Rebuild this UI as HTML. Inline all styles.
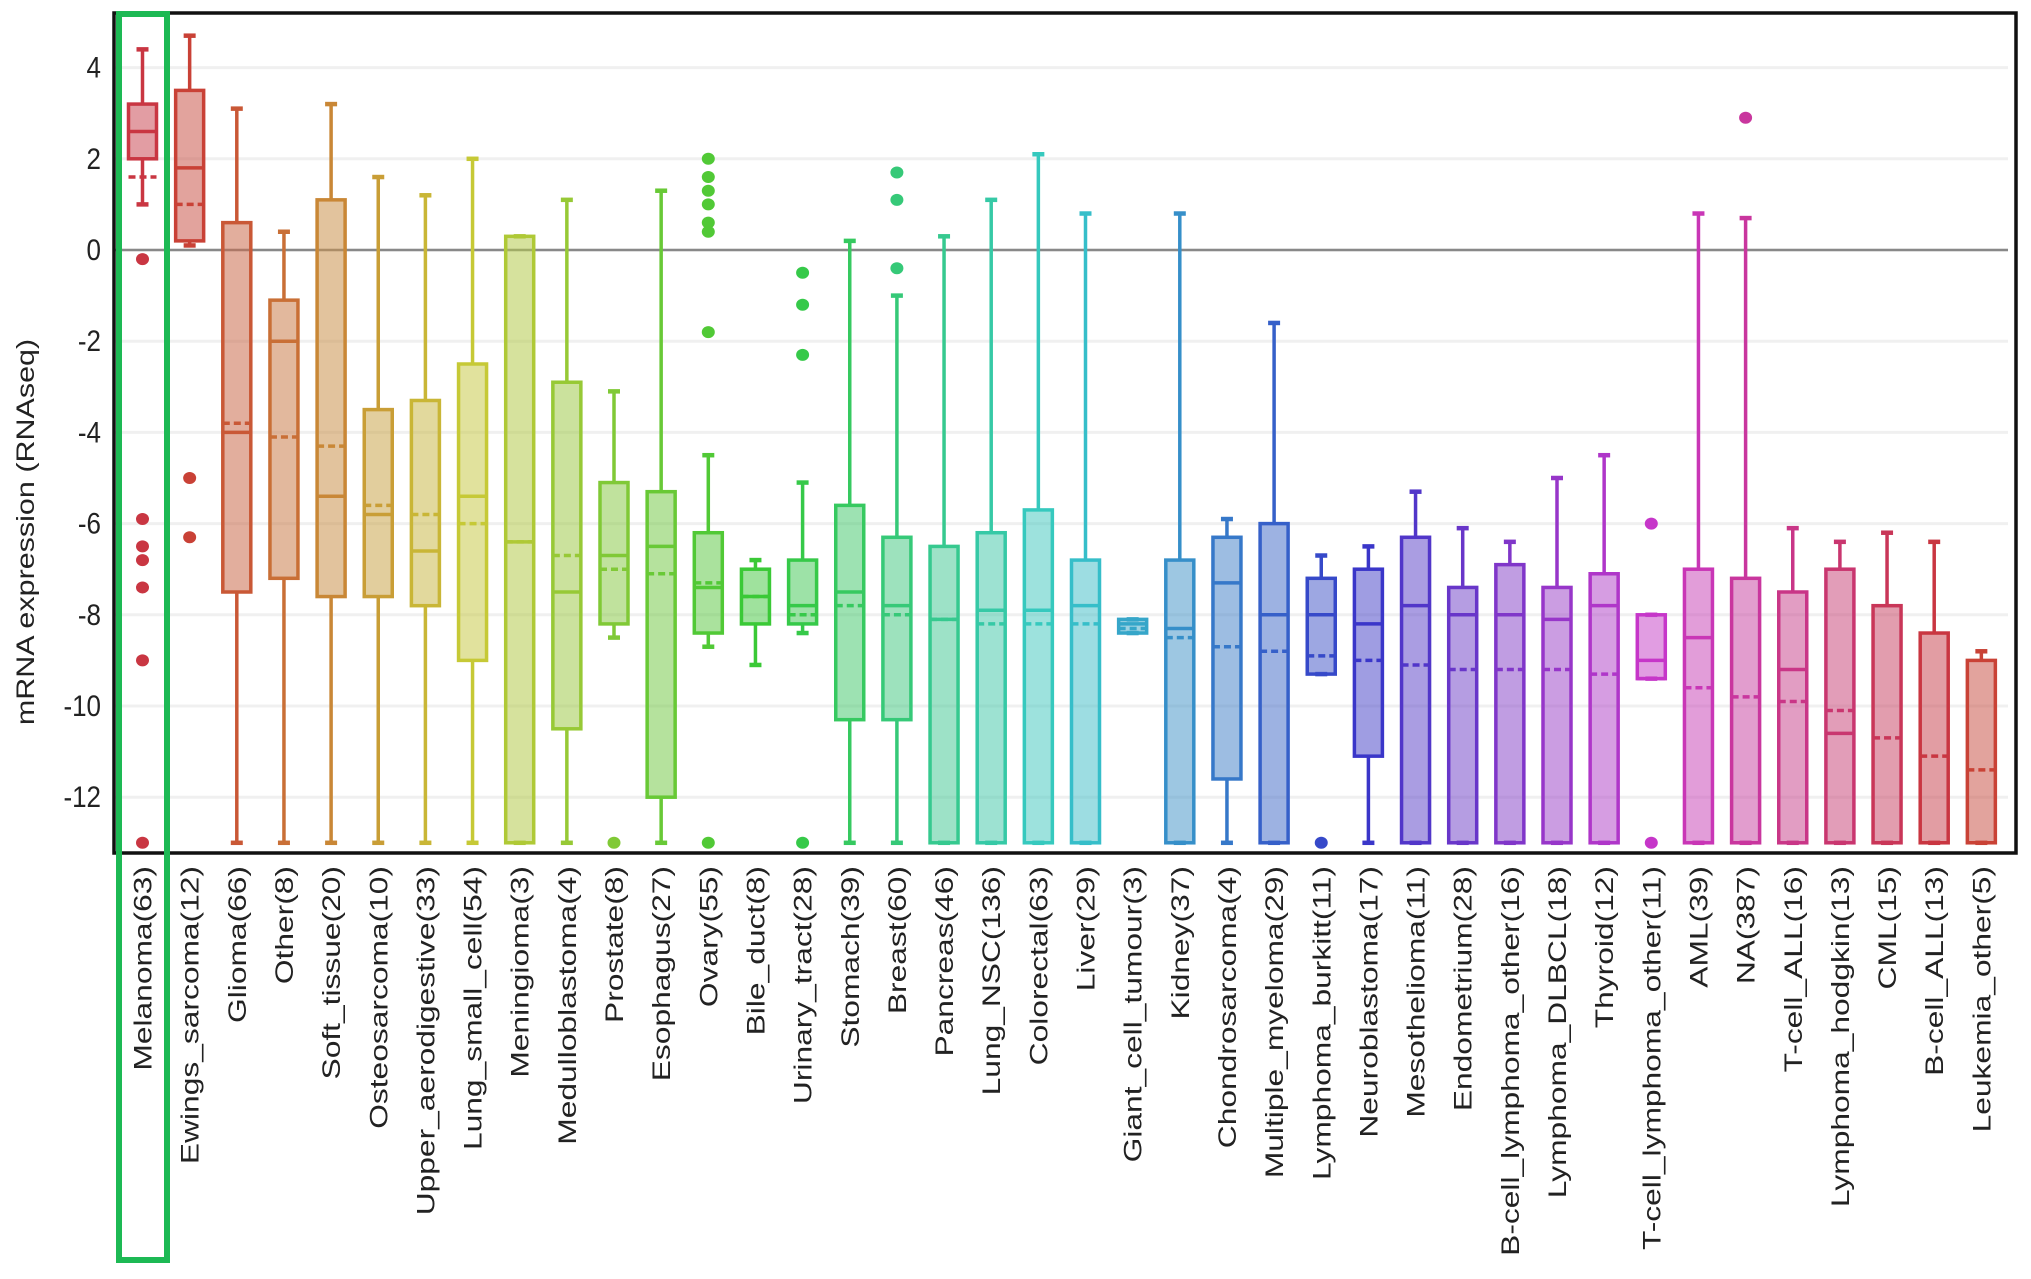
<!DOCTYPE html>
<html><head><meta charset="utf-8"><style>
html,body{margin:0;padding:0;background:#fff;}
svg{display:block;font-family:"Liberation Sans",sans-serif;}
</style></head><body>
<svg id="chart" width="2031" height="1279" viewBox="0 0 2031 1279" xmlns="http://www.w3.org/2000/svg"></svg>
<script>
const categories = ["Melanoma(63)","Ewings_sarcoma(12)","Glioma(66)","Other(8)","Soft_tissue(20)","Osteosarcoma(10)","Upper_aerodigestive(33)","Lung_small_cell(54)","Meningioma(3)","Medulloblastoma(4)","Prostate(8)","Esophagus(27)","Ovary(55)","Bile_duct(8)","Urinary_tract(28)","Stomach(39)","Breast(60)","Pancreas(46)","Lung_NSC(136)","Colorectal(63)","Liver(29)","Giant_cell_tumour(3)","Kidney(37)","Chondrosarcoma(4)","Multiple_myeloma(29)","Lymphoma_burkitt(11)","Neuroblastoma(17)","Mesothelioma(11)","Endometrium(28)","B-cell_lymphoma_other(16)","Lymphoma_DLBCL(18)","Thyroid(12)","T-cell_lymphoma_other(11)","AML(39)","NA(387)","T-cell_ALL(16)","Lymphoma_hodgkin(13)","CML(15)","B-cell_ALL(13)","Leukemia_other(5)"];
const whiskerHigh = [4.4,4.7,3.1,0.4,3.2,1.6,1.2,2.0,0.3,1.1,-3.1,1.3,-4.5,-6.8,-5.1,0.2,-1.0,0.3,1.1,2.1,0.8,-8.1,0.8,-5.9,-1.6,-6.7,-6.5,-5.3,-6.1,-6.4,-5.0,-4.5,-8.0,0.8,0.7,-6.1,-6.4,-6.2,-6.4,-8.8];
const q3Values = [3.2,3.5,0.6,-1.1,1.1,-3.5,-3.3,-2.5,0.3,-2.9,-5.1,-5.3,-6.2,-7.0,-6.8,-5.6,-6.3,-6.5,-6.2,-5.7,-6.8,-8.1,-6.8,-6.3,-6.0,-7.2,-7.0,-6.3,-7.4,-6.9,-7.4,-7.1,-8.0,-7.0,-7.2,-7.5,-7.0,-7.8,-8.4,-9.0];
const medianValues = [2.6,1.8,-4.0,-2.0,-5.4,-5.8,-6.6,-5.4,-6.4,-7.5,-6.7,-6.5,-7.4,-7.6,-7.8,-7.5,-7.8,-8.1,-7.9,-7.9,-7.8,-8.2,-8.3,-7.3,-8.0,-8.0,-8.2,-7.8,-8.0,-8.0,-8.1,-7.8,-9.0,-8.5,-13,-9.2,-10.6,-13,-13,-13];
const meanValues = [1.6,1.0,-3.8,-4.1,-4.3,-5.6,-5.8,-6.0,-6.4,-6.7,-7.0,-7.1,-7.3,-7.6,-8.0,-7.8,-8.0,-8.1,-8.2,-8.2,-8.2,-8.3,-8.5,-8.7,-8.8,-8.9,-9.0,-9.1,-9.2,-9.2,-9.2,-9.3,-9.4,-9.6,-9.8,-9.9,-10.1,-10.7,-11.1,-11.4];
const q1Values = [2.0,0.2,-7.5,-7.2,-7.6,-7.6,-7.8,-9.0,-13,-10.5,-8.2,-12.0,-8.4,-8.2,-8.2,-10.3,-10.3,-13,-13,-13,-13,-8.4,-13,-11.6,-13,-9.3,-11.1,-13,-13,-13,-13,-13,-9.4,-13,-13,-13,-13,-13,-13,-13];
const whiskerLow = [1.0,0.1,-13,-13,-13,-13,-13,-13,-13,-13,-8.5,-13,-8.7,-9.1,-8.4,-13,-13,-13,-13,-13,-13,-8.4,-13,-13,-13,-9.3,-13,-13,-13,-13,-13,-13,-9.4,-13,-13,-13,-13,-13,-13,-13];
const outlierValues = [[-0.2,-5.9,-6.5,-6.8,-7.4,-9.0,-13],[-5.0,-6.3],[],[],[],[],[],[],[],[],[-13],[],[2.0,1.6,1.3,1.0,0.6,0.4,-1.8,-13],[],[-0.5,-1.2,-2.3,-13],[],[1.7,1.1,-0.4],[],[],[],[],[],[],[],[],[-13],[],[],[],[],[],[],[-6.0,-13],[],[2.9],[],[],[],[],[]];
const yTicks = [4,2,0,-2,-4,-6,-8,-10,-12];

const NS="http://www.w3.org/2000/svg";
const svg=document.getElementById('chart');
const L=114,R=2016,T=13,B=853;
const x0=142.5, step=47.15, bw=28;
function xs(i){return x0+i*step;}
function ys(v){return 250-45.6*v;}
function mk(tag,attrs,parent){const e=document.createElementNS(NS,tag);for(const k in attrs)e.setAttribute(k,attrs[k]);(parent||svg).appendChild(e);return e;}

yTicks.forEach(v=>{
  const g=mk('line',{x1:L,x2:R-8,y1:ys(v),y2:ys(v),stroke:'#f0f0f0','stroke-width':3});
  
  
  const t=mk('text',{transform:`translate(101,${ys(v)+10}) scale(1,1.15)`,'text-anchor':'end','font-size':26,fill:'#222'});
  t.textContent=v;
  
  
});
const zl=mk('line',{x1:L,x2:R-8,y1:ys(0),y2:ys(0),stroke:'#888','stroke-width':2.5});



categories.forEach((c,i)=>{
  const h=(355+i*370/39)%360;
  const col=`hsl(${h},58%,50%)`;
  const fill=`hsla(${h},55%,55%,0.55)`;
  const g=mk('g',{});
  
  
  const cx=xs(i);
  mk('line',{x1:cx,x2:cx,y1:ys(whiskerHigh[i]),y2:ys(q3Values[i]),stroke:col,'stroke-width':3.5},g);
  mk('line',{x1:cx,x2:cx,y1:ys(q1Values[i]),y2:ys(whiskerLow[i]),stroke:col,'stroke-width':3.5},g);
  mk('line',{x1:cx-6,x2:cx+6,y1:ys(whiskerHigh[i]),y2:ys(whiskerHigh[i]),stroke:col,'stroke-width':4.5},g);
  mk('line',{x1:cx-6,x2:cx+6,y1:ys(whiskerLow[i]),y2:ys(whiskerLow[i]),stroke:col,'stroke-width':4.5},g);
  const top=ys(q3Values[i]),bot=ys(q1Values[i]);
  mk('rect',{x:cx-bw/2,y:top,width:bw,height:Math.max(bot-top,1),fill:fill,stroke:col,'stroke-width':3.5},g);
  mk('line',{x1:cx-bw/2,x2:cx+bw/2,y1:ys(medianValues[i]),y2:ys(medianValues[i]),stroke:col,'stroke-width':3.5},g);
  mk('line',{x1:cx-bw/2,x2:cx+bw/2,y1:ys(meanValues[i]),y2:ys(meanValues[i]),stroke:col,'stroke-width':3.5,'stroke-dasharray':'7,4'},g);
  outlierValues[i].forEach(v=>{
    const o=mk('ellipse',{cx:cx,cy:ys(v),rx:6.5,ry:6,fill:col},g);
    
    
  });
  const t=mk('text',{transform:`translate(${cx+9},866) rotate(-90) scale(1.27,1)`,'text-anchor':'end','font-size':25,fill:'#222'});
  t.textContent=c;
  
  
});

const fr=mk('rect',{x:L,y:T,width:R-L,height:B-T,fill:'none',stroke:'#111','stroke-width':3.5});


const hl=mk('rect',{x:119,y:14,width:48,height:1246,fill:'none',stroke:'#1db954','stroke-width':6});


const at=mk('text',{transform:'translate(34,532) rotate(-90) scale(1.22,1)','text-anchor':'middle','font-size':25,fill:'#222'});
at.textContent='mRNA expression (RNAseq)';


</script>
</body></html>
